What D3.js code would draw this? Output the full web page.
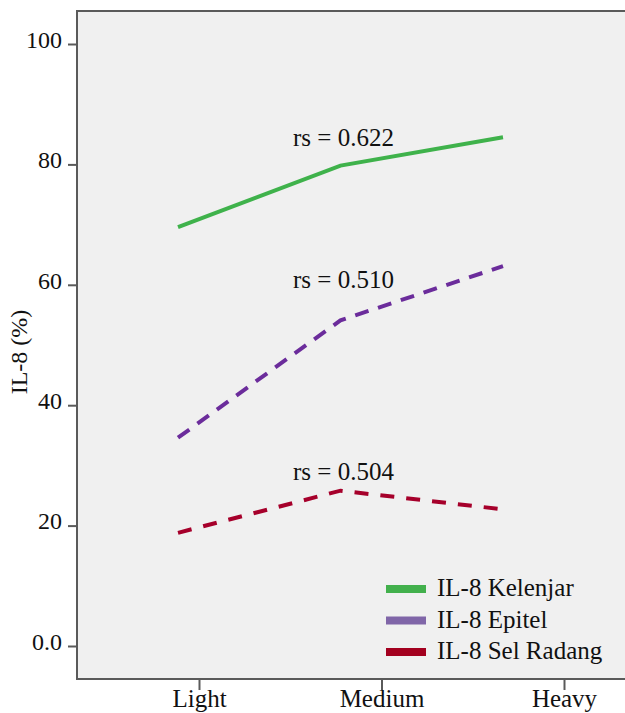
<!DOCTYPE html>
<html>
<head>
<meta charset="utf-8">
<script src="https://cdn.jsdelivr.net/npm/d3@7"></script>
<style>
  body { margin: 0; background: #fff; }
</style>
</head>
<body>
<div id="canvas"></div>
<script>
const w = 625;
const h = 713;
const font = "Liberation Serif";
const fs = 25;

// data
const categories = ["Light", "Medium", "Heavy"];
const kelenjar = [69.6, 79.8, 84.5];
const epitel = [34.6, 54.1, 63.1];
const selRadang = [18.8, 25.8, 22.7];
const rsLabels = ["rs = 0.622", "rs = 0.510", "rs = 0.504"];
const rsAt = [83.0, 59.5, 27.5];
const yTicks = [0, 20, 40, 60, 80, 100];
const seriesNames = ["IL-8 Kelenjar", "IL-8 Epitel", "IL-8 Sel Radang"];

const lineColors = ["#3fb24b", "#6b2c9b", "#a6002b"];
const legendColors = ["#42b04c", "#8066a8", "#a3001f"];
const dashes = [null, "14,10", "14,12"];

const frameL = 77, frameT = 11, frameB = 679;

let svg = d3.select('#canvas').append("svg").attr("width", w).attr("height", h)
            .attr("font-family", font);

const yScale = d3.scaleLinear().domain([0, 100]).range([646, 44]);
const xScale = d3.scalePoint().domain(categories).range([199, 564]);
const lineX = d3.scalePoint().domain(categories).range([178, 503]);

// plot area
svg.append("rect").attr("x", frameL).attr("y", frameT)
   .attr("width", w - frameL + 5).attr("height", frameB - frameT)
   .attr("fill", "#f0f0f0").attr("stroke", "none");
svg.append("path")
   .attr("d", "M" + (w + 5) + "," + frameT + "H" + frameL + "V" + frameB + "H" + (w + 5))
   .attr("fill", "none").attr("stroke", "#5a5a5a").attr("stroke-width", 2);

// axes
const yAxis = d3.axisLeft(yScale).tickValues(yTicks).tickSize(9).tickPadding(6)
                .tickFormat(d => d === 0 ? "0.0" : d);
const gy = svg.append("g").attr("transform", "translate(" + frameL + ",0)").call(yAxis);

const xAxis = d3.axisBottom(xScale).tickSize(11).tickPadding(3);
const gx = svg.append("g").attr("transform", "translate(0," + frameB + ")").call(xAxis);

[gy, gx].forEach(g => {
  g.attr("font-family", font);
  g.select(".domain").remove();
  g.selectAll(".tick line").attr("stroke", "#5a5a5a").attr("stroke-width", 2);
  g.selectAll(".tick text").attr("font-size", 24).attr("fill", "#111")
   .attr("font-family", font);
});
gy.selectAll(".tick text").attr("dy", "0.14em");
gx.selectAll(".tick text").attr("font-size", fs).attr("dy", "0.56em");

svg.append("text").text("IL-8 (%)")
   .attr("transform", "translate(27,352) rotate(-90)")
   .attr("font-family", font)
   .attr("text-anchor", "middle").attr("font-size", 24).attr("fill", "#111");

// lines
const allSeries = [kelenjar, epitel, selRadang];
const line = d3.line().x((d, i) => lineX(categories[i])).y(d => yScale(d));

allSeries.forEach((s, k) => {
  svg.append("path").datum(s)
     .attr("d", line)
     .attr("fill", "none")
     .attr("stroke", lineColors[k])
     .attr("stroke-width", 4)
     .attr("stroke-dasharray", dashes[k]);
});

// rs labels
svg.selectAll(".rs").data(rsLabels).enter().append("text")
   .attr("class", "rs")
   .text(d => d)
   .attr("x", lineX("Medium") + 3)
   .attr("y", (d, i) => yScale(rsAt[i]))
   .attr("font-family", font)
   .attr("text-anchor", "middle").attr("font-size", fs).attr("fill", "#111");

// legend
let legend = svg.append("g").attr("id", "legend")
  .selectAll("g").data(seriesNames).enter().append("g")
  .attr("transform", (d, i) => "translate(386," + (589 + i * 31.5) + ")");

legend.append("rect")
  .attr("x", 0).attr("y", -4).attr("width", 40).attr("height", 8)
  .attr("fill", (d, i) => legendColors[i]);
legend.append("text")
  .text(d => d)
  .attr("x", 51).attr("y", 7)
  .attr("font-family", font)
  .attr("font-size", fs).attr("fill", "#111");
</script>
</body>
</html>
